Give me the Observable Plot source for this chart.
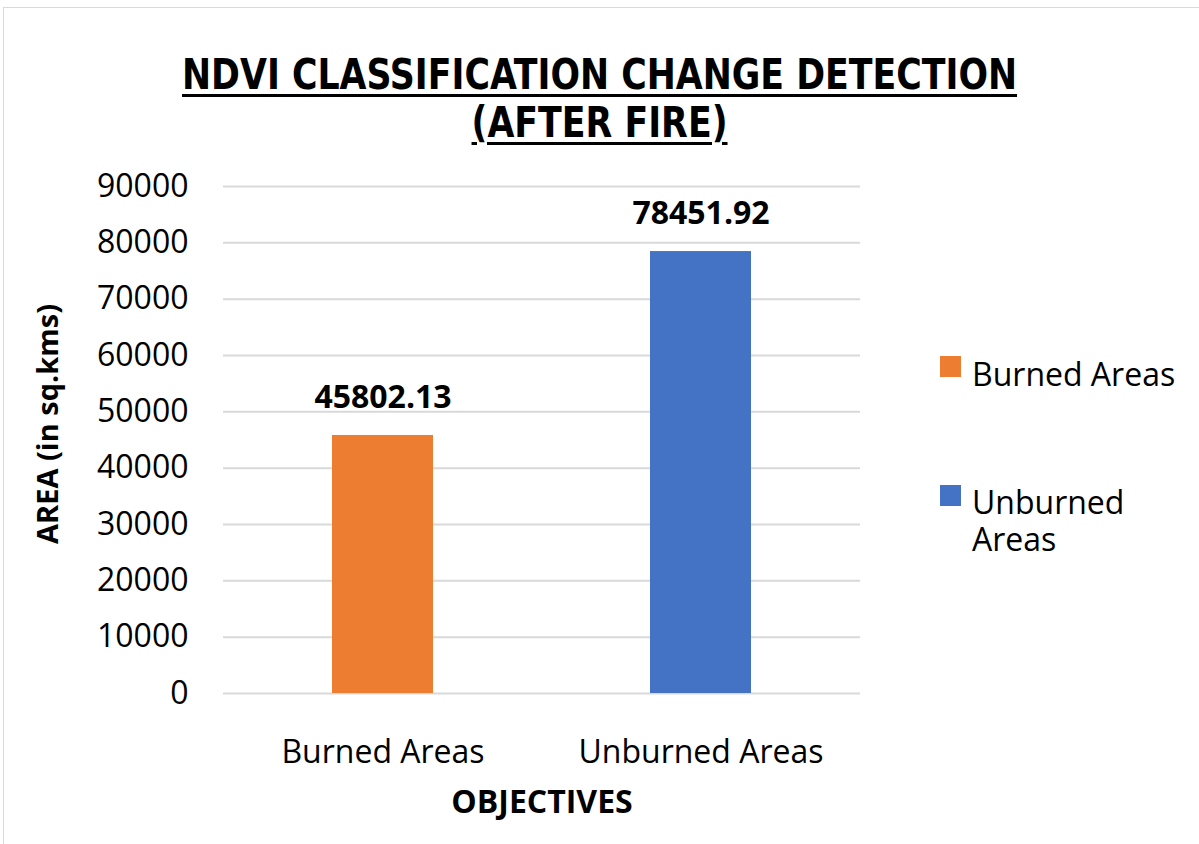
<!DOCTYPE html>
<html><head><meta charset="utf-8">
<script src="https://cdn.jsdelivr.net/npm/d3@7"></script>
<script src="https://cdn.jsdelivr.net/npm/@observablehq/plot@0.6"></script>
<style>
body{margin:0;background:#fff;}
#wrap{position:relative;width:1199px;height:844px;overflow:hidden;font-family:"Open Sans",sans-serif;color:#000;background:#fff;}
#frame{position:absolute;left:3px;top:7px;width:1210px;height:850px;border:1.5px solid #d9d9d9;box-sizing:border-box;}
#title{position:absolute;left:0;width:1199px;top:51px;text-align:center;font-family:"Liberation Sans Narrow","DejaVu Sans Condensed",sans-serif;font-weight:bold;font-size:42px;line-height:48px;text-decoration:underline;text-decoration-thickness:3px;text-underline-offset:5px;transform:scaleX(0.92);transform-origin:600px 0;}
#chart{position:absolute;left:0;top:150px;}
.sw{position:absolute;width:21px;height:21px;}
.lt{position:absolute;font-size:32px;line-height:36px;white-space:nowrap;}
</style></head>
<body><div id="wrap">
<div id="frame"></div>
<div id="title">NDVI CLASSIFICATION CHANGE DETECTION<br>(AFTER FIRE)</div>
<div id="chart"></div>
<div id="legend"></div>
</div>
<script>
const categories = ["Burned Areas", "Unburned Areas"];
const values = [45802.13, 78451.92];
const colors = ["#ED7D31", "#4472C4"];
const yTicks = [0, 10000, 20000, 30000, 40000, 50000, 60000, 70000, 80000, 90000];
const yLabel = "AREA (in sq.kms)";
const xLabel = "OBJECTIVES";
const legendLines = [["Burned Areas"], ["Unburned", "Areas"]];

const data = categories.map((c, i) => ({category: c, value: values[i]}));

const chart = Plot.plot({
  width: 880, height: 680,
  marginLeft: 223, marginRight: 20, marginTop: 36, marginBottom: 137,
  style: {fontFamily: "Open Sans, sans-serif", fontSize: "32px", color: "#000", background: "transparent", overflow: "visible"},
  x: {domain: categories, paddingInner: 0.683, paddingOuter: 0.342, label: null},
  y: {domain: [0, 90000], label: null},
  color: {domain: categories, range: colors},
  marks: [
    Plot.gridY(yTicks, {stroke: "#d9d9d9", strokeOpacity: 1, strokeWidth: 2}),
    Plot.axisY(yTicks, {tickSize: 0, tickPadding: 35, tickFormat: d => String(d), label: null}),
    Plot.axisX({tickSize: 0, tickPadding: 47, label: null}),
    Plot.barY(data, {x: "category", y: "value", fill: "category"}),
    Plot.text(data, {x: "category", y: "value", text: d => d.value.toFixed(2), dy: -38, fontWeight: "bold", fontSize: 32, fill: "#000"}),
    Plot.text([yLabel], {text: d => d, frameAnchor: "left", textAnchor: "middle", rotate: -90, dx: -175, dy: -16, fontWeight: "bold", fontSize: 29, fill: "#000"}),
    Plot.text([xLabel], {text: d => d, frameAnchor: "bottom", dy: 119, fontWeight: "bold", fontSize: 32, fill: "#000"})
  ]
});
document.getElementById("chart").appendChild(chart);

const legend = document.getElementById("legend");
const swTops = [356, 485];
const txTops = [356, 484];
categories.forEach((c, i) => {
  const sw = document.createElement("div");
  sw.className = "sw";
  sw.style.left = "940px";
  sw.style.top = swTops[i] + "px";
  sw.style.background = colors[i];
  legend.appendChild(sw);
  legendLines[i].forEach((line, j) => {
    const t = document.createElement("div");
    t.className = "lt";
    t.style.left = "972px";
    t.style.top = (txTops[i] + j * 37) + "px";
    t.textContent = line;
    legend.appendChild(t);
  });
});
</script>
</body></html>
